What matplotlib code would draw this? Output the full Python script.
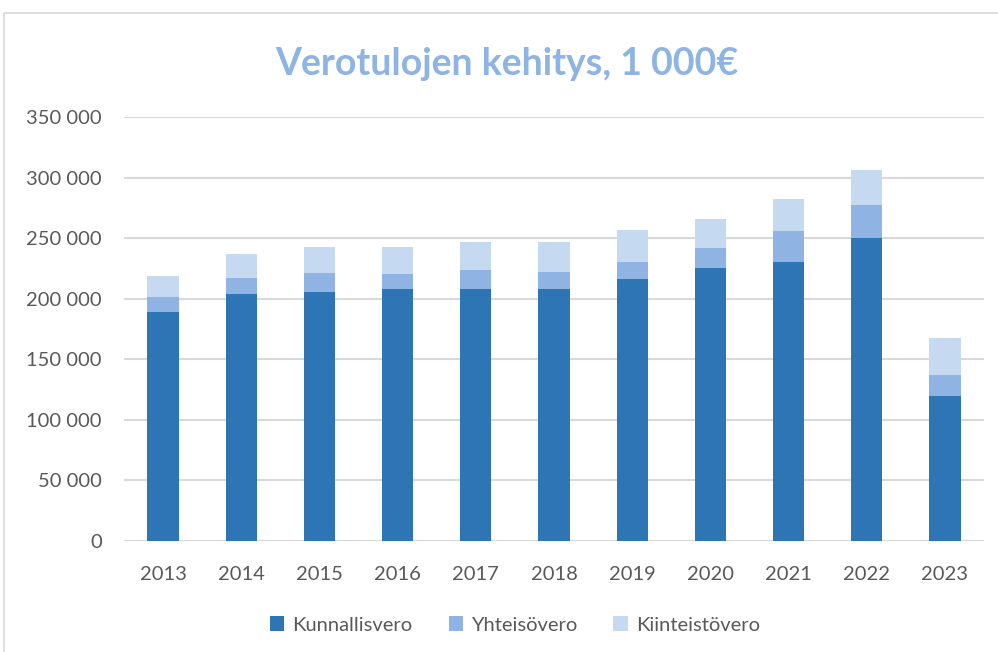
import matplotlib.pyplot as plt
import matplotlib.patches as mpatches
import numpy as np

# ======================
# DATA (1 000 €)
# ======================
years = ["2013", "2014", "2015", "2016", "2017", "2018", "2019", "2020", "2021", "2022", "2023"]
kunnallisvero = [189000, 203600, 205500, 207750, 207750, 207750, 216000, 225400, 230600, 250400, 119700]
yhteisovero = [12400, 13500, 15700, 12400, 15700, 14300, 14600, 16500, 25050, 27000, 17300]
kiinteistovero = [17400, 19600, 21750, 22850, 23650, 25050, 25850, 23900, 26650, 28900, 30300]

series_names = ["Kunnallisvero", "Yhteisövero", "Kiinteistövero"]
colors = ["#2E75B6", "#8FB4E3", "#C5D9F1"]

plt.rcParams['font.family'] = ['Lato', 'DejaVu Sans']
text_col = "#595959"

fig = plt.figure(figsize=(9.98, 6.52), dpi=100)

# chart frame like the office chart border
fig.patches.append(mpatches.Rectangle((4 / 998, -0.05), 1.0, 1 - 13 / 652 + 0.05,
                                      transform=fig.transFigure, fill=False,
                                      edgecolor="#D9D9D9", linewidth=1.2))

ax = fig.add_axes([124 / 998, 1 - 541 / 652, (984 - 124) / 998, (541 - 117) / 652])

x = np.arange(len(years))
bottom = np.zeros(len(years))
for vals, name, c in zip([kunnallisvero, yhteisovero, kiinteistovero], series_names, colors):
    ax.bar(x, vals, width=0.4, bottom=bottom, color=c, label=name, zorder=3)
    bottom += np.array(vals)

ax.set_xlim(-0.5, len(years) - 0.5)
ax.set_ylim(0, 350000)
ax.set_yticks(np.arange(0, 350001, 50000))
ax.set_yticklabels([f"{v:,}".replace(",", " ") for v in range(0, 350001, 50000)])
ax.set_xticks(x)
ax.set_xticklabels(years)

ax.grid(axis='y', color="#D9D9D9", linewidth=1.5, zorder=0)
for s in ax.spines.values():
    s.set_visible(False)
ax.tick_params(axis='both', length=0, labelsize=14.5, colors=text_col)
ax.tick_params(axis='y', pad=16)
ax.tick_params(axis='x', pad=18)

fig.text(0.508, 1 - 64 / 652, "Verotulojen kehitys, 1 000€", ha='center', va='center',
         fontsize=27, fontweight='bold', color="#8DB4E2")

fig.legend(loc='center', bbox_to_anchor=(0.516, 1 - 625 / 652), ncol=3, frameon=False,
           fontsize=14.5, handlelength=0.7, handleheight=0.7, columnspacing=1.8,
           handletextpad=0.4, labelcolor=text_col)

plt.savefig("out.png", dpi=100)
